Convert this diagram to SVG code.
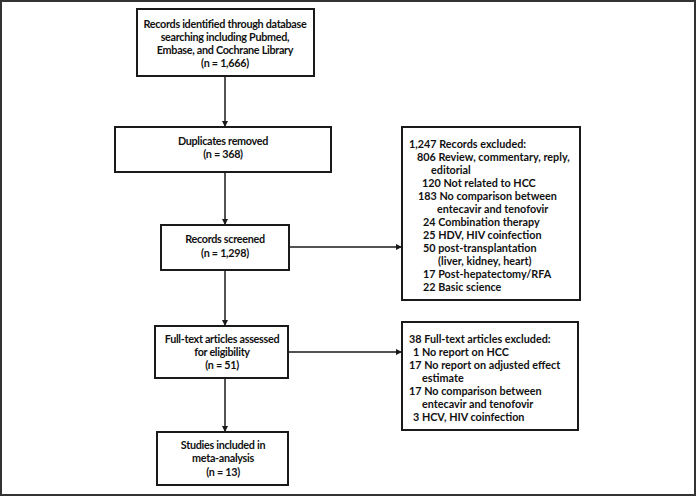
<svg xmlns="http://www.w3.org/2000/svg" width="696" height="496" viewBox="0 0 696 496">
<defs>
<style>
.box{fill:#fff;stroke:#1a1a1a;stroke-width:2}
.ln{stroke:#1a1a1a;stroke-width:1.5;fill:none}
text{font-family:Lato,"Liberation Sans",sans-serif;font-weight:bold;font-size:10.8px;fill:#111;letter-spacing:0px}
.c{text-anchor:middle;letter-spacing:-0.3px}
</style>
<marker id="ah" viewBox="0 0 8 8" refX="8" refY="4" markerWidth="6" markerHeight="6" markerUnits="userSpaceOnUse" orient="auto">
<path d="M0,0 L8,4 L0,8 z" fill="#1a1a1a"/>
</marker>
</defs>
<rect x="0" y="0" width="696" height="496" fill="#fff"/>
<rect x="1" y="1" width="694" height="494" fill="none" stroke="#333" stroke-width="2"/>
<g id="connectors">
<line class="ln" x1="225" y1="76" x2="225" y2="127" marker-end="url(#ah)"/>
<line class="ln" x1="225" y1="172" x2="225" y2="225" marker-end="url(#ah)"/>
<line class="ln" x1="225" y1="270" x2="225" y2="326" marker-end="url(#ah)"/>
<line class="ln" x1="225" y1="378" x2="225" y2="432" marker-end="url(#ah)"/>
<line class="ln" x1="289" y1="247" x2="402" y2="247" marker-end="url(#ah)"/>
<line class="ln" x1="288" y1="352" x2="402" y2="352" marker-end="url(#ah)"/>
</g>
<g id="identified">
<rect class="box" x="137" y="9" width="177" height="67"/>
<text class="c" x="225" y="28">Records identified through database</text>
<text class="c" x="225" y="41">searching including Pubmed,</text>
<text class="c" x="225" y="54">Embase, and Cochrane Library</text>
<text class="c" x="225" y="67">(n = 1,666)</text>
</g>
<g id="duplicates">
<rect class="box" x="115" y="127" width="216" height="45"/>
<text class="c" x="223" y="145">Duplicates removed</text>
<text class="c" x="223" y="158">(n = 368)</text>
</g>
<g id="screened">
<rect class="box" x="161" y="225" width="128" height="45"/>
<text class="c" x="225" y="243">Records screened</text>
<text class="c" x="225" y="257">(n = 1,298)</text>
</g>
<g id="excluded1">
<rect class="box" x="402" y="127" width="178" height="173"/>
<text x="409" y="148">1,247 Records excluded:</text>
<text x="417" y="161">806 Review, commentary, reply,</text>
<text x="431" y="174">editorial</text>
<text x="422" y="187">120 Not related to HCC</text>
<text x="418" y="200">183 No comparison between</text>
<text x="437" y="213">entecavir and tenofovir</text>
<text x="423" y="226">24 Combination therapy</text>
<text x="423" y="239">25 HDV, HIV coinfection</text>
<text x="423" y="252">50 post-transplantation</text>
<text x="438" y="265">(liver, kidney, heart)</text>
<text x="423" y="278">17 Post-hepatectomy/RFA</text>
<text x="423" y="291">22 Basic science</text>
</g>
<g id="fulltext">
<rect class="box" x="155" y="326" width="133" height="52"/>
<text class="c" x="222" y="343">Full-text articles assessed</text>
<text class="c" x="222" y="356">for eligibility</text>
<text class="c" x="222" y="369">(n = 51)</text>
</g>
<g id="excluded2">
<rect class="box" x="402" y="322" width="176" height="108"/>
<text x="409" y="343">38 Full-text articles excluded:</text>
<text x="413" y="356">1 No report on HCC</text>
<text x="409" y="369">17 No report on adjusted effect</text>
<text x="422" y="382">estimate</text>
<text x="409" y="395">17 No comparison between</text>
<text x="422" y="408">entecavir and tenofovir</text>
<text x="413" y="421">3 HCV, HIV coinfection</text>
</g>
<g id="included">
<rect class="box" x="157" y="432" width="131" height="53"/>
<text class="c" x="223" y="449">Studies included in</text>
<text class="c" x="223" y="462">meta-analysis</text>
<text class="c" x="223" y="476">(n = 13)</text>
</g>
</svg>
